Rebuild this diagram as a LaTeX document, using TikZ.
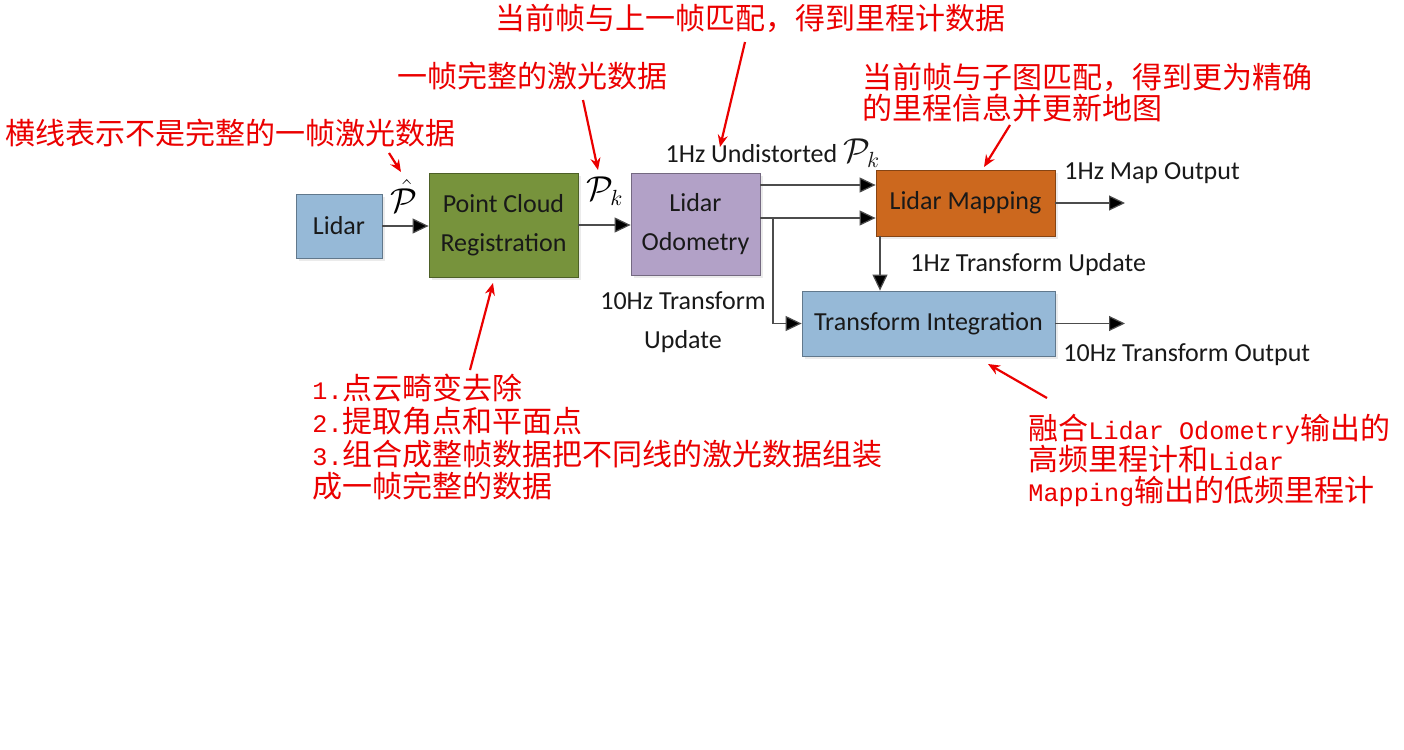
\documentclass[tikz,border=0pt]{standalone}
\usepackage{fontspec}
\setmainfont{Carlito}
\newfontfamily\cjk{Noto Sans CJK SC}
\newfontfamily\redmono{Liberation Mono}[Scale=0.84]
\usetikzlibrary{arrows.meta,shadows}
\definecolor{lidarblue}{RGB}{150,185,215}
\definecolor{pcrgreen}{RGB}{119,147,60}
\definecolor{lopurple}{RGB}{178,161,199}
\definecolor{lmorange}{RGB}{204,104,30}
\definecolor{notered}{RGB}{235,0,0}
\tikzset{
  box/.style={draw=#1!65!black, fill=#1, inner sep=0pt, align=center,
    text=black!90, font=\fontsize{13}{19.5}\selectfont,
    drop shadow={shadow xshift=1.5pt,shadow yshift=-1.5pt,fill=black!15}},
  conn/.style={draw=black!70, line width=0.6pt, -{Triangle[length=8pt,width=7.5pt,fill=black]}},
  lbl/.style={inner sep=0pt, text=black!90, font=\fontsize{13}{19.5}\selectfont},
  sym/.style={inner sep=0pt, font=\fontsize{16}{19}\selectfont},
  note/.style={inner sep=0pt, text=notered, align=left, font=\cjk\fontsize{15}{15.5}\selectfont},
  redarrow/.style={draw=notered, line width=1.1pt, -{Stealth[length=6pt,width=5pt]}}
}
\begin{document}
\begin{tikzpicture}[x=0.5pt,y=-0.5pt]
  \useasboundingbox[fill=white] (0,0) rectangle (1404,750);
  % blocks
  \node[box=lidarblue, minimum width=43pt, minimum height=32pt] (lidar) at (339,226) {Lidar};
  \node[box=pcrgreen, minimum width=74.5pt, minimum height=52pt] (pcr) at (503.5,225) {Point Cloud\\Registration};
  \node[box=lopurple, minimum width=64.5pt, minimum height=51pt] (lo) at (695.5,224) {Lidar\\Odometry};
  \node[box=lmorange, minimum width=89.5pt, minimum height=33pt] (lm) at (965.5,203) {Lidar Mapping};
  \node[box=lidarblue, minimum width=126.5pt, minimum height=32.5pt] (ti) at (928.5,323.5) {Transform Integration};
  % connectors
  \coordinate (in1) at ([yshift=9pt]lm.west);
  \coordinate (in2) at ([yshift=-7.5pt]lm.west);
  \coordinate (br) at (773,218);
  \coordinate (dn) at (880,0);
  \coordinate (mapout) at (1125,203);
  \coordinate (tiout) at (1125,323.5);
  \draw[conn] (lidar.east) -- (lidar.east -| pcr.west);
  \draw[conn] (pcr.east) -- (pcr.east -| lo.west);
  \draw[conn] (lo.east |- in1) -- (in1);
  \draw[conn] (lo.east |- in2) -- (in2);
  \draw[conn] (br) |- (ti.west);
  \draw[conn] (lm.south -| dn) -- (ti.north -| dn);
  \draw[conn] (lm.east) -- (mapout);
  \draw[conn] (ti.east) -- (tiout);
  % labels
  \node[sym] (phat) at (404,196) {$\hat{\mathcal{P}}$};
  \node[sym] (pk) at (605,191) {$\mathcal{P}_k$};
  \node[lbl] (undist) at (773,153) {1Hz Undistorted {\fontsize{16}{19}\selectfont$\mathcal{P}_k$}};
  \node[lbl, align=center] (upd10) at (683,322) {10Hz Transform\\Update};
  \node[lbl, anchor=west] (upd1) at (910,265) {1Hz Transform Update};
  \node[lbl, anchor=west] (mapo) at (1064,173) {1Hz Map Output};
  \node[lbl, anchor=west] (tfo) at (1063,355) {10Hz Transform Output};
  % notes
  \node[note, anchor=west] (n1) at (495,18) {当前帧与上一帧匹配，得到里程计数据};
  \node[note, anchor=west] (n2) at (397,76) {一帧完整的激光数据};
  \node[note, anchor=west] (n3) at (5,133) {横线表示不是完整的一帧激光数据};
  \node[note, anchor=north west] (n4) at (862,63) {当前帧与子图匹配，得到更为精确\\的里程信息并更新地图};
  \node[note, anchor=north west, font=\cjk\fontsize{15}{16.3}\selectfont] (n5) at (312,374) {{\redmono 1.}点云畸变去除\\{\redmono 2.}提取角点和平面点\\{\redmono 3.}组合成整帧数据把不同线的激光数据组装\\成一帧完整的数据};
  \node[note, anchor=north west] (n6) at (1028,414) {融合{\redmono Lidar Odometry}输出的\\高频里程计和{\redmono Lidar}\\{\redmono Mapping}输出的低频里程计};
  \coordinate (a1s) at (745,42);   \coordinate (a1e) at (720,147);
  \coordinate (a2s) at (583,100);  \coordinate (a2e) at (598,170);
  \coordinate (a3s) at (389,153);  \coordinate (a3e) at (401,172);
  \coordinate (a4s) at (1010,125); \coordinate (a4e) at (984,167);
  \coordinate (a5s) at (470,370);  \coordinate (a5e) at (493,283);
  \coordinate (a6s) at (1047,398); \coordinate (a6e) at (988,364);
  \foreach \s/\e in {a1s/a1e,a2s/a2e,a3s/a3e,a4s/a4e,a5s/a5e,a6s/a6e} {
    \draw[redarrow] (\s) -- (\e);
  }
\end{tikzpicture}
\end{document}
